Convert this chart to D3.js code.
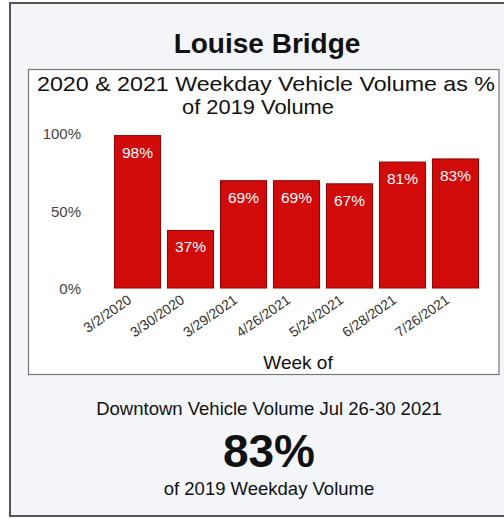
<!DOCTYPE html>
<html>
<head>
<meta charset="utf-8">
<script src="https://cdn.jsdelivr.net/npm/d3@7"></script>
<style>
  html, body { margin: 0; padding: 0; background: #ffffff; }
  svg { display: block; font-family: "Liberation Sans", Arial, sans-serif; }
</style>
</head>
<body>
<svg id="chart" width="504" height="519"></svg>
<script>
const weeks = ["3/2/2020", "3/30/2020", "3/29/2021", "4/26/2021", "5/24/2021", "6/28/2021", "7/26/2021"];
const values = [98, 37, 69, 69, 67, 81, 83];
const yTicks = [0, 50, 100];

const svg = d3.select("#chart");

// outer panel
svg.append("rect").attr("x", 0).attr("y", 0).attr("width", 504).attr("height", 519).attr("fill", "#ffffff");
svg.append("rect").attr("x", 10).attr("y", 3).attr("width", 510).attr("height", 513)
  .attr("fill", "#f3f5f9").attr("stroke", "#555").attr("stroke-width", 2);

svg.append("text").attr("x", 267).attr("y", 53).attr("text-anchor", "middle")
  .attr("font-size", 28).attr("font-weight", "bold").attr("fill", "#111").text("Louise Bridge");

// inner chart box
svg.append("rect").attr("x", 28.5).attr("y", 69.5).attr("width", 470.5).attr("height", 305)
  .attr("fill", "#ffffff").attr("stroke", "#777").attr("stroke-width", 1.2);

svg.append("text").attr("x", 266).attr("y", 91).attr("text-anchor", "middle")
  .attr("font-size", 21).attr("fill", "#111")
  .attr("textLength", 458).attr("lengthAdjust", "spacingAndGlyphs")
  .text("2020 & 2021 Weekday Vehicle Volume as %");
svg.append("text").attr("x", 258).attr("y", 114).attr("text-anchor", "middle")
  .attr("font-size", 21).attr("fill", "#111")
  .attr("textLength", 152).attr("lengthAdjust", "spacingAndGlyphs")
  .text("of 2019 Volume");

const x = d3.scaleBand().domain(weeks).range([111, 482]).paddingInner(0.13).paddingOuter(0.065);
const y = d3.scaleLinear().domain([0, 100]).range([288, 132.5]);

// y axis labels
const yAxis = d3.axisLeft(y).tickValues(yTicks).tickFormat(d => d + "%").tickSize(0).tickPadding(0);
const ya = svg.append("g").attr("transform", "translate(81,1)").call(yAxis);
ya.select(".domain").remove();
ya.selectAll("text").attr("font-size", 15).attr("fill", "#444").attr("font-family", "Liberation Sans, Arial, sans-serif");

// bars
svg.append("g").selectAll("rect").data(values).join("rect")
  .attr("x", (d, i) => x(weeks[i]))
  .attr("y", d => y(d))
  .attr("width", x.bandwidth())
  .attr("height", d => y(0) - y(d))
  .attr("fill", "#d10a0a").attr("stroke", "#8e0000").attr("stroke-width", 1);

svg.append("g").selectAll("text").data(values).join("text")
  .attr("x", (d, i) => x(weeks[i]) + x.bandwidth() / 2)
  .attr("y", d => y(d) + 22)
  .attr("text-anchor", "middle").attr("font-size", 15.5).attr("fill", "#ffffff")
  .text(d => d + "%");

// x axis labels
const xAxis = d3.axisBottom(x).tickSize(0).tickPadding(0);
const xa = svg.append("g").attr("transform", "translate(0,288)").call(xAxis);
xa.select(".domain").remove();
xa.selectAll("text")
  .attr("font-size", 14).attr("fill", "#333").attr("font-family", "Liberation Sans, Arial, sans-serif")
  .attr("text-anchor", "end").attr("dy", null).attr("y", 0)
  .attr("transform", "translate(-5,14) rotate(-35)");

svg.append("text").attr("x", 298).attr("y", 369).attr("text-anchor", "middle")
  .attr("font-size", 19).attr("fill", "#111").text("Week of");

// bottom summary
svg.append("text").attr("x", 269).attr("y", 415).attr("text-anchor", "middle")
  .attr("font-size", 18.5).attr("fill", "#111").text("Downtown Vehicle Volume Jul 26-30 2021");
svg.append("text").attr("x", 269).attr("y", 467).attr("text-anchor", "middle")
  .attr("font-size", 46).attr("font-weight", "bold").attr("fill", "#111").text("83%");
svg.append("text").attr("x", 269).attr("y", 495).attr("text-anchor", "middle")
  .attr("font-size", 18.5).attr("fill", "#111").text("of 2019 Weekday Volume");
</script>
</body>
</html>
